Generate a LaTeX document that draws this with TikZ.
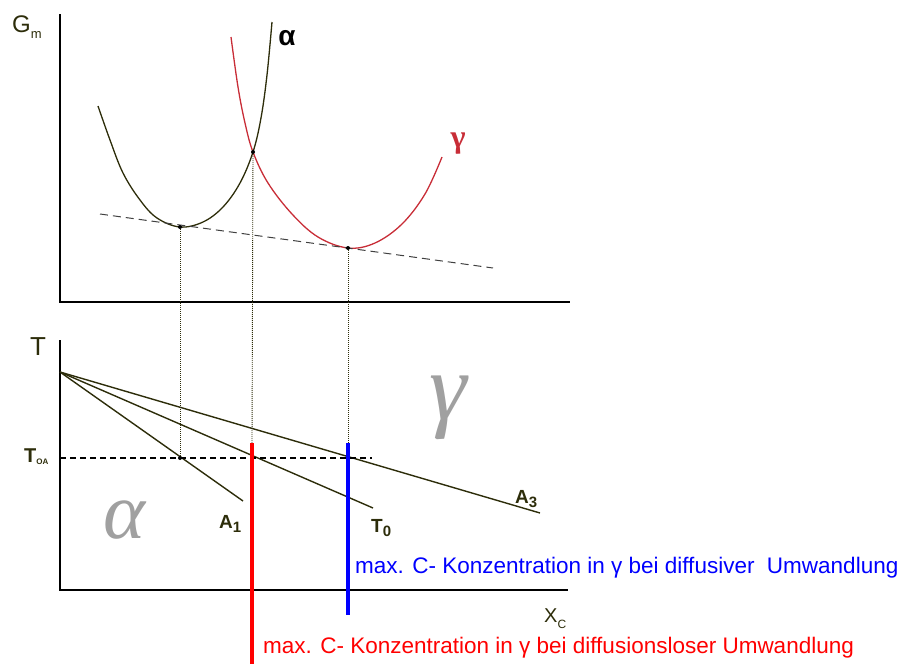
\documentclass[tikz,border=0pt]{standalone}
\usepackage{fontspec}
\setmainfont{Liberation Sans}
\newfontfamily\serifgreek{Liberation Serif}
\usetikzlibrary{positioning}
\definecolor{curvedark}{RGB}{45,45,10}
\definecolor{gammared}{RGB}{200,45,55}
\definecolor{phasegray}{RGB}{160,160,160}

\begin{document}
\begin{tikzpicture}[x=1pt, y=-1pt,
  axis/.style={draw=black, line width=1.8pt},
  curve/.style={line width=1.3pt},
  guide/.style={draw=curvedark, line width=0.9pt, dash pattern=on 1pt off 1pt},
  tangent/.style={draw=black!75, line width=1pt, dash pattern=on 8pt off 5pt},
  branch/.style={draw=curvedark, line width=1.4pt},
  limit/.style={line width=3.5pt},
  pt/.style={circle, fill=black, inner sep=0pt, minimum size=4pt},
  lbl/.style={text=curvedark, inner sep=0pt, anchor=base west},
  big/.style={text=phasegray, inner sep=0pt}
]
\useasboundingbox (0,0) rectangle (898,664);

% upper diagram: free energy
\coordinate (gtop) at (60,14);
\coordinate (gorig) at (60,302);
\coordinate (gend) at (570,302);
\draw[axis] (gtop) -- (gorig) -- (gend);
\node[lbl, font=\fontsize{24}{24}\selectfont] (gm) at (12,32) {G\raisebox{-6pt}{\fontsize{13}{13}\selectfont m}};

\draw[curve, curvedark] plot[smooth, tension=0.6] coordinates {(98,106) (110,140) (123,173) (140,200) (157,218) (180,227) (203,222) (223,207) (240,183) (253,152) (261,118) (267,75) (272,22)};
\draw[curve, gammared] plot[smooth, tension=0.6] coordinates {(231,37) (238,87) (245,123) (253,152) (268,183) (292,214) (318,237) (348,248) (375,243) (402,224) (425,194) (442,157)};
\node[font=\fontsize{28}{28}\selectfont\bfseries, inner sep=0pt] (alab) at (287,38) {α};
\node[font=\fontsize{32}{32}\selectfont\serifgreek\bfseries, text=gammared, inner sep=0pt] (glab) at (458,144) {γ};

\coordinate (tanL) at (100,214);
\coordinate (tanR) at (493,268);
\draw[tangent] (tanL) -- (tanR);

\node[pt] (amin) at (180,227) {};
\node[pt] (cross) at (253,152) {};
\node[pt] (gmin) at (348,248) {};

% lower diagram: temperature
\coordinate (ttop) at (60,340);
\coordinate (torig) at (60,590);
\coordinate (xend) at (568,590);
\draw[axis] (ttop) -- (torig) -- (xend);
\node[lbl, font=\fontsize{26}{26}\selectfont] (tlab) at (30,355) {T};
\node[lbl, font=\fontsize{20}{20}\selectfont] (xlab) at (544,622) {X\raisebox{-6pt}{\fontsize{12}{12}\selectfont C}};
\node[lbl, font=\fontsize{20}{20}\selectfont\bfseries] (toalab) at (24,462) {T\raisebox{-2pt}{\fontsize{8}{8}\selectfont OA}};

\coordinate (pole) at (60,372);
\coordinate (a1end) at (243,501);
\coordinate (t0end) at (373,508);
\coordinate (a3end) at (540,513);
\draw[branch] (pole) -- (a1end);
\draw[branch] (pole) -- (t0end);
\draw[branch] (pole) -- (a3end);

\coordinate (toa) at (60,458);
\coordinate (toaend) at (372,458);
\draw[dashed, line width=1.4pt, dash pattern=on 6pt off 4pt] (toa) -- (toaend);

\node[pt] (pa) at (180,458) {};
\node[pt] (pb) at (252,458) {};
\coordinate (redtop) at (252,443);
\coordinate (redend) at (252,664);
\coordinate (bluetop) at (348,443);
\coordinate (blueend) at (348,615);
\draw[guide] (amin) -- (pa);
\draw[guide] (cross) -- (redtop);
\draw[guide] (gmin) -- (bluetop);
\draw[limit, red] (redtop) -- (redend);
\draw[limit, blue] (bluetop) -- (blueend);

\node[lbl, font=\fontsize{19}{19}\selectfont\bfseries] (a1lab) at (219,528) {A\raisebox{-4pt}{\fontsize{15}{15}\selectfont 1}};
\node[lbl, font=\fontsize{19}{19}\selectfont\bfseries] (t0lab) at (371,532) {T\raisebox{-4pt}{\fontsize{15}{15}\selectfont 0}};
\node[lbl, font=\fontsize{19}{19}\selectfont\bfseries] (a3lab) at (515,503) {A\raisebox{-4pt}{\fontsize{15}{15}\selectfont 3}};

\node[big, font=\fontsize{95}{95}\selectfont\serifgreek\itshape] (biggamma) at (448,408) {γ};
\node[big, font=\fontsize{80}{80}\selectfont\serifgreek\itshape] (bigalpha) at (124,520) {α};

\node[anchor=base west, inner sep=0pt, text=blue, font=\fontsize{22.5}{22.5}\selectfont] (difftxt) at (355,573) {max. C- Konzentration in γ bei diffusiver\ \ Umwandlung};
\node[anchor=base west, inner sep=0pt, text=red, font=\fontsize{22.5}{22.5}\selectfont] (lostxt) at (263,653) {max. C- Konzentration in γ bei diffusionsloser Umwandlung};
\end{tikzpicture}
\end{document}
